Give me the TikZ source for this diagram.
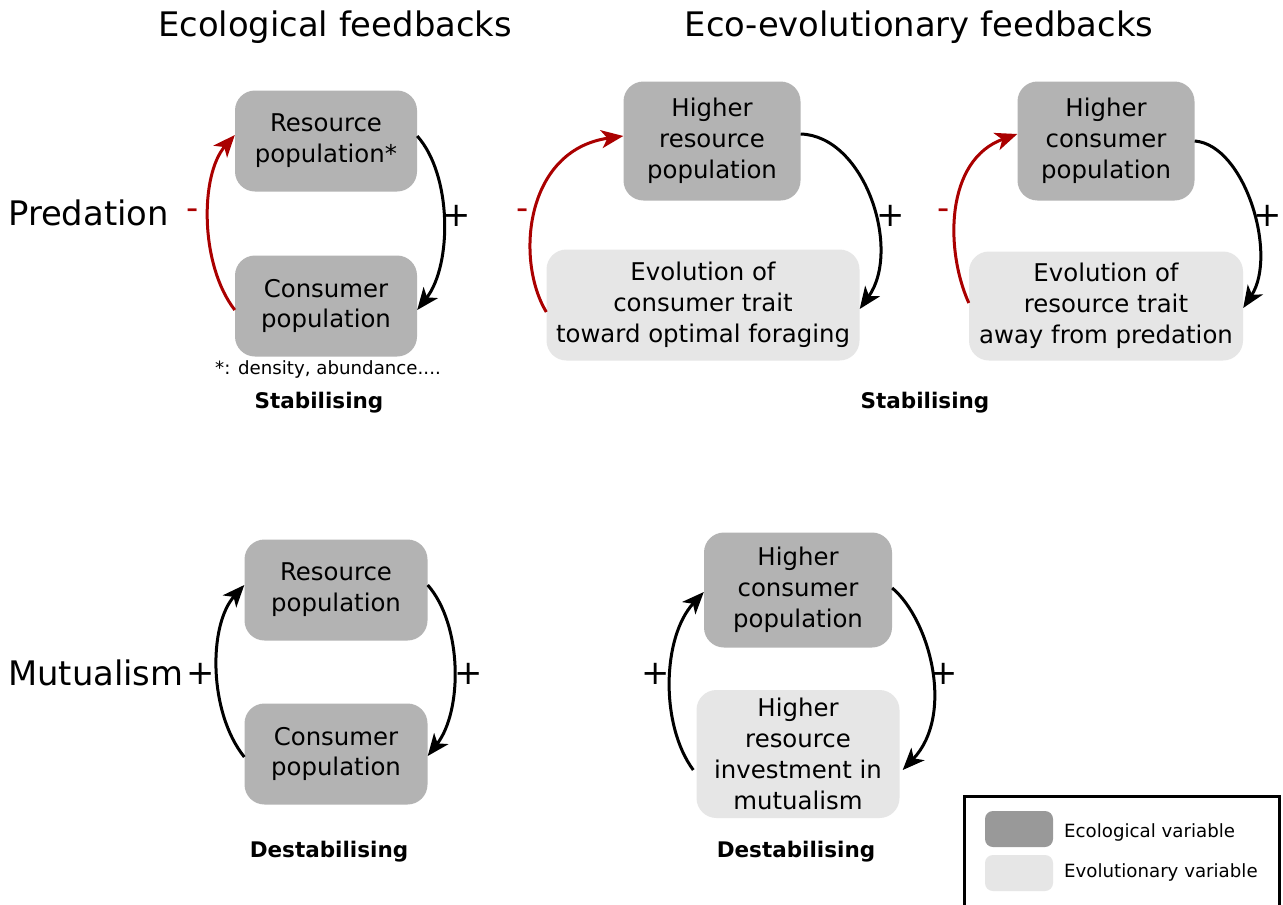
\documentclass[tikz,border=0pt]{standalone}
\usepackage{fontspec}
\setmainfont{DejaVu Sans}
\usetikzlibrary{arrows.meta}
\definecolor{ecogray}{HTML}{B3B3B3}
\definecolor{evogray}{HTML}{E6E6E6}
\definecolor{legdark}{HTML}{999999}
\definecolor{negred}{HTML}{AA0000}
\tikzset{
  box/.style={rounded corners=20pt, align=center, inner sep=0pt, font=\fontsize{24.4}{30.8}\selectfont},
  eco/.style={box, fill=ecogray},
  evo/.style={box, fill=evogray},
  fbarrow/.style={line width=3pt, -{Stealth[length=22pt,width=18pt,inset=6pt]}},
  posarrow/.style={fbarrow, black},
  negarrow/.style={fbarrow, negred},
  sign/.style={font=\fontsize{33.8}{40}\selectfont, inner sep=0pt},
  title/.style={font=\fontsize{33.8}{40}\selectfont, inner sep=0pt},
  verdict/.style={font=\fontsize{21.5}{26}\selectfont\bfseries, inner sep=0pt},
  legtext/.style={font=\fontsize{18.2}{22}\selectfont, inner sep=0pt, anchor=west},
}
\begin{document}
\begin{tikzpicture}[x=1pt,y=-1pt]
\path[use as bounding box, fill=white] (0,0) rectangle (1283,905);

% titles
\node[title] (t1) at (335,27) {Ecological feedbacks};
\node[title] (t2) at (919,27) {Eco-evolutionary feedbacks};
\node[title, anchor=west] (pred) at (8,213) {Predation};
\node[title, anchor=west] (mut) at (8,673) {Mutualism};

% predation, ecological
\node[eco, minimum width=182pt, minimum height=101pt] (R) at (326,141) {Resource\\population*};
\node[eco, minimum width=182pt, minimum height=101pt] (C) at (326,306) {Consumer\\population};
\draw[posarrow] ([yshift=5pt]R.east) .. controls +(35,39) and +(35,-45) .. ([yshift=-4pt]C.east);
\draw[negarrow] ([yshift=-4pt]C.west) .. controls +(-35,-45) and +(-35,40) .. ([yshift=6pt]R.west);
\node[sign, negred] (m1) at (193,214) {-};
\node[sign] (p1) at (457,216) {+};
\node[font=\fontsize{18.2}{22}\selectfont, inner sep=0pt] (note) at (328,369) {*: density, abundance....};
\node[verdict] (s1) at (319,403) {Stabilising};

% predation, eco-evolutionary 1
\node[eco, minimum width=177pt, minimum height=119pt] (HR) at (712,141) {Higher\\resource\\population};
\node[evo, minimum width=313pt, minimum height=111pt] (E1) at (703,305) {Evolution of\\consumer trait\\toward optimal foraging};
\draw[posarrow] ([yshift=7pt]HR.east) .. controls (865,136) and (902,250) .. ([yshift=-4pt]E1.east);
\draw[negarrow] ([yshift=-7pt]E1.west) .. controls (515,260) and (525,150) .. ([yshift=5pt]HR.west);
\node[sign, negred] (m2) at (523,214) {-};
\node[sign] (p2) at (891,216) {+};

% predation, eco-evolutionary 2
\node[eco, minimum width=177pt, minimum height=119pt] (HC) at (1106,141) {Higher\\consumer\\population};
\node[evo, minimum width=274pt, minimum height=109pt] (E2) at (1106,306) {Evolution of\\resource trait\\away from predation};
\draw[posarrow] (HC.east) .. controls (1245,145) and (1278,255) .. ([yshift=-2pt]E2.east);
\draw[negarrow] ([yshift=3pt]E2.west) .. controls (945,250) and (945,160) .. ([yshift=7pt]HC.west);
\node[sign, negred] (m3) at (944,214) {-};
\node[sign] (p3) at (1268,216) {+};
\node[verdict] (s2) at (925,403) {Stabilising};

% mutualism, ecological
\node[eco, minimum width=183pt, minimum height=101pt] (R2) at (336,590) {Resource\\population};
\node[eco, minimum width=183pt, minimum height=101pt] (C2) at (336,754) {Consumer\\population};
\draw[posarrow] ([yshift=5pt]R2.east) .. controls +(35,40) and +(35,-45) .. ([yshift=-2pt]C2.east);
\draw[posarrow] ([yshift=-3pt]C2.west) .. controls +(-36,-45) and +(-36,40) .. ([yshift=5pt]R2.west);
\node[sign] (p4) at (201,674) {+};
\node[sign] (p5) at (469,674) {+};
\node[verdict] (d1) at (329,852) {Destabilising};

% mutualism, eco-evolutionary
\node[eco, minimum width=188pt, minimum height=115pt] (HC2) at (798,590) {Higher\\consumer\\population};
\node[evo, minimum width=203pt, minimum height=128pt] (HI) at (798,754) {Higher\\resource\\investment in\\mutualism};
\draw[posarrow] ([yshift=2pt]HC2.east) .. controls (930,620) and (955,715) .. ([xshift=3pt,yshift=-16pt]HI.east);
\draw[posarrow] ([xshift=-3pt,yshift=-16pt]HI.west) .. controls (660,725) and (662,637) .. ([yshift=-2pt]HC2.west);
\node[sign] (p6) at (656,674) {+};
\node[sign] (p7) at (944,674) {+};
\node[verdict] (d2) at (796,852) {Destabilising};

% legend
\draw[line width=3.5pt] (964.5,796.5) rectangle (1279.5,910);
\node[fill=legdark, rounded corners=8pt, minimum width=68pt, minimum height=36pt, inner sep=0pt] (k1) at (1019,829) {};
\node[fill=evogray, rounded corners=8pt, minimum width=68pt, minimum height=36pt, inner sep=0pt] (k2) at (1019,873) {};
\node[legtext] (l1) at (1064,832) {Ecological variable};
\node[legtext] (l2) at (1064,872) {Evolutionary variable};
\end{tikzpicture}
\end{document}
